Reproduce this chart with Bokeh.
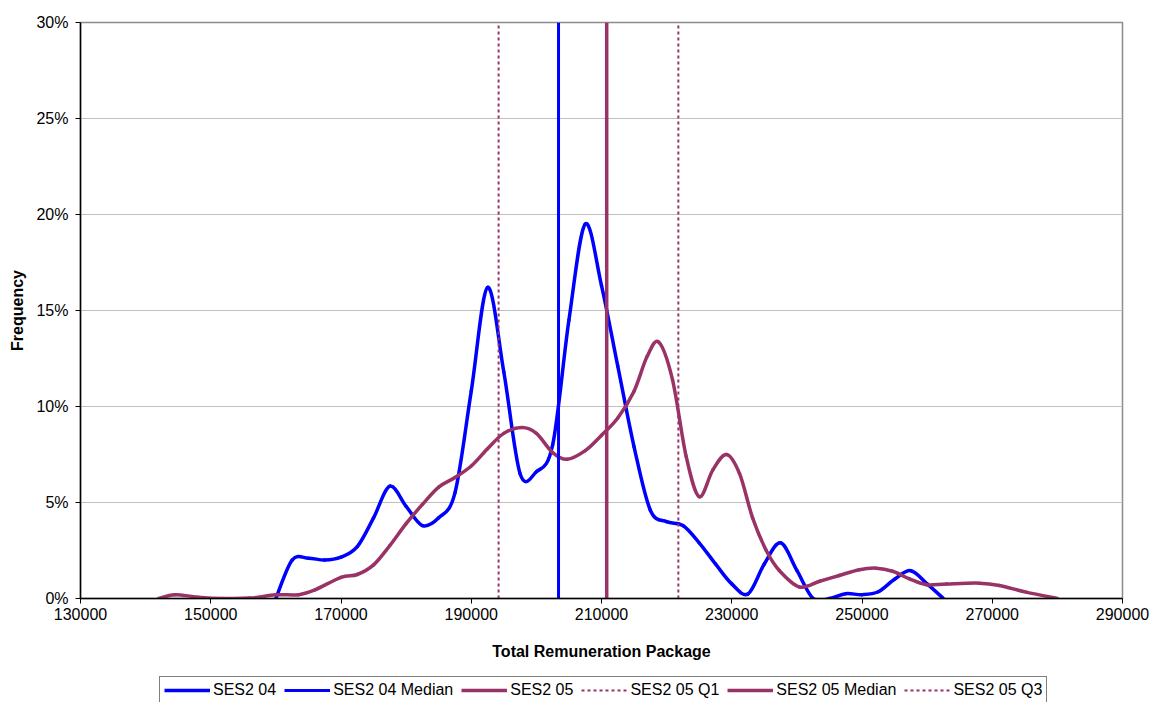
from bokeh.plotting import figure
from bokeh.models import Range1d, FixedTicker, PrintfTickFormatter, Legend, LegendItem
from bokeh.layouts import column
from bokeh.embed import file_html
from bokeh.resources import INLINE

# ---------------- data ----------------
ses04_x = [160000, 162500, 165000, 167500, 170000, 172500, 175000, 177500, 180000,
           182500, 185000, 187500, 190000, 192500, 195000, 197500, 200000, 202500,
           205000, 207500, 210000, 212500, 215000, 217500, 220000, 222500, 225000,
           227500, 230000, 232500, 235000, 237500, 240000, 242500, 245000, 247500,
           250000, 252500, 255000, 257500, 260000, 262500]
ses04_y = [0.0, 2.0, 2.1, 2.0, 2.15, 2.7, 4.2, 5.85, 4.8,
           3.8, 4.2, 5.5, 10.8, 16.2, 11.8, 6.5, 6.6, 8.0,
           14.5, 19.5, 16.3, 12.1, 7.9, 4.6, 4.0, 3.8, 2.9,
           1.8, 0.76, 0.24, 1.8, 2.9, 1.46, 0.0, 0.0, 0.25,
           0.2, 0.35, 1.0, 1.45, 0.76, 0.0]

ses05_x = [142000, 144500, 148000, 152000, 156000, 160000, 163500, 166000, 170000,
           172500, 175000, 177500, 180000, 182500, 185000, 187500, 190000, 192500,
           195000, 197800, 200000, 202500, 204700, 207500, 210000, 212500, 215000,
           217000, 218800, 220900, 223000, 225000, 227100, 229200, 231200, 233200,
           235300, 237300, 240400, 243500, 246500, 249600, 252200, 254700, 257300,
           259900, 263000, 268000, 271100, 275200, 280000]
ses05_y = [0.0, 0.2, 0.07, 0.0, 0.02, 0.19, 0.2, 0.45, 1.1,
           1.25, 1.75, 2.76, 3.9, 4.9, 5.8, 6.3, 6.9, 7.8,
           8.6, 8.9, 8.6, 7.6, 7.25, 7.7, 8.5, 9.4, 10.8,
           12.6, 13.35, 11.4, 7.4, 5.3, 6.7, 7.5, 6.5, 4.2,
           2.5, 1.46, 0.6, 0.9, 1.2, 1.5, 1.58, 1.42, 1.02,
           0.72, 0.76, 0.8, 0.68, 0.33, 0.0]

ses04_median = 203400
ses05_q1 = 194200
ses05_median = 210800
ses05_q3 = 221800

x_ticks = [130000, 150000, 170000, 190000, 210000, 230000, 250000, 270000, 290000]
y_ticks = [0, 5, 10, 15, 20, 25, 30]
y_max = 30

BLUE = "#0000ff"
PLUM = "#993366"
FONT = "Liberation Sans"

STYLES = {
    "SES2 04": dict(line_color=BLUE, line_width=3.5),
    "SES2 04 Median": dict(line_color=BLUE, line_width=3),
    "SES2 05": dict(line_color=PLUM, line_width=3.5),
    "SES2 05 Q1": dict(line_color=PLUM, line_width=2, line_dash="3 3"),
    "SES2 05 Median": dict(line_color=PLUM, line_width=3.5),
    "SES2 05 Q3": dict(line_color=PLUM, line_width=2, line_dash="3 3"),
}


def smooth_segments(xs, ys):
    """Catmull-Rom style Bezier control points (Excel-like smoothed line)."""
    n = len(xs)
    out = dict(x0=[], y0=[], x1=[], y1=[], cx0=[], cy0=[], cx1=[], cy1=[])
    for i in range(n - 1):
        a = max(i - 1, 0)
        d = min(i + 2, n - 1)
        out["x0"].append(xs[i]); out["y0"].append(ys[i])
        out["x1"].append(xs[i + 1]); out["y1"].append(ys[i + 1])
        out["cx0"].append(xs[i] + (xs[i + 1] - xs[a]) / 6.0)
        out["cy0"].append(ys[i] + (ys[i + 1] - ys[a]) / 6.0)
        out["cx1"].append(xs[i + 1] - (xs[d] - xs[i]) / 6.0)
        out["cy1"].append(ys[i + 1] - (ys[d] - ys[i]) / 6.0)
    return out


p = figure(width=1151, height=676, output_backend="svg", toolbar_location=None,
           x_range=Range1d(130000, 290000), y_range=Range1d(0, y_max),
           min_border_left=80, min_border_right=29, min_border_top=22,
           min_border_bottom=78)

p.background_fill_color = "white"
p.border_fill_color = "white"
p.outline_line_color = "#8c8c8c"
p.outline_line_width = 1.5

p.xgrid.grid_line_color = None
p.ygrid.grid_line_color = "#c0c0c0"
p.ygrid.grid_line_width = 1
p.ygrid.ticker = FixedTicker(ticks=y_ticks)

for ax in (p.xaxis[0], p.yaxis[0]):
    ax.axis_line_color = "black"
    ax.axis_line_width = 1.5
    ax.major_tick_line_color = "black"
    ax.major_tick_out = 5
    ax.major_tick_in = 0
    ax.minor_tick_line_color = None
    ax.major_label_text_font = FONT
    ax.major_label_text_font_size = "16px"
    ax.major_label_text_color = "black"
    ax.axis_label_text_font = FONT
    ax.axis_label_text_font_size = "16px"
    ax.axis_label_text_font_style = "bold"
    ax.axis_label_text_color = "black"

p.xaxis.ticker = FixedTicker(ticks=x_ticks)
p.xaxis.formatter = PrintfTickFormatter(format="%d")
p.xaxis.axis_label = "Total Remuneration Package"
p.xaxis.major_label_standoff = 4
p.xaxis.axis_label_standoff = 20

p.yaxis.ticker = FixedTicker(ticks=y_ticks)
p.yaxis.formatter = PrintfTickFormatter(format="%d%%")
p.yaxis.axis_label = "Frequency"
p.yaxis.major_label_standoff = 7
p.yaxis.axis_label_standoff = 7

# smoothed frequency curves
s04 = smooth_segments(ses04_x, ses04_y)
s05 = smooth_segments(ses05_x, ses05_y)
p.bezier(line_cap="round", **STYLES["SES2 04"], **s04)
p.bezier(line_cap="round", **STYLES["SES2 05"], **s05)

# quartile / median lines
p.line(x=[ses05_q1, ses05_q1], y=[0, y_max], **STYLES["SES2 05 Q1"])
p.line(x=[ses05_q3, ses05_q3], y=[0, y_max], **STYLES["SES2 05 Q3"])
p.line(x=[ses04_median, ses04_median], y=[0, y_max], **STYLES["SES2 04 Median"])
p.line(x=[ses05_median, ses05_median], y=[0, y_max], **STYLES["SES2 05 Median"])

# ---------------- legend strip below the chart ----------------
# same series drawn into a strip whose y-range lies above the data, so only
# the legend is visible there
lg = figure(width=1151, height=26, output_backend="svg", toolbar_location=None,
            x_range=p.x_range, y_range=Range1d(1000, 1001),
            x_axis_type=None, y_axis_type=None,
            min_border_left=80, min_border_right=29, min_border_top=0, min_border_bottom=0)
lg.outline_line_color = None
lg.xgrid.grid_line_color = None
lg.ygrid.grid_line_color = None
lg.background_fill_color = "white"
lg.border_fill_color = "white"

l04 = lg.line(x=ses04_x, y=ses04_y, **STYLES["SES2 04"])
l04m = lg.line(x=[ses04_median, ses04_median], y=[0, y_max], **STYLES["SES2 04 Median"])
l05 = lg.line(x=ses05_x, y=ses05_y, **STYLES["SES2 05"])
l05q1 = lg.line(x=[ses05_q1, ses05_q1], y=[0, y_max], **STYLES["SES2 05 Q1"])
l05m = lg.line(x=[ses05_median, ses05_median], y=[0, y_max], **STYLES["SES2 05 Median"])
l05q3 = lg.line(x=[ses05_q3, ses05_q3], y=[0, y_max], **STYLES["SES2 05 Q3"])

legend = Legend(items=[
    LegendItem(label="SES2 04", renderers=[l04]),
    LegendItem(label="SES2 04 Median", renderers=[l04m]),
    LegendItem(label="SES2 05", renderers=[l05]),
    LegendItem(label="SES2 05 Q1", renderers=[l05q1]),
    LegendItem(label="SES2 05 Median", renderers=[l05m]),
    LegendItem(label="SES2 05 Q3", renderers=[l05q3]),
], orientation="horizontal", location=(79, -2),
    border_line_color="black", border_line_width=1,
    background_fill_color="white", background_fill_alpha=1,
    glyph_width=46, glyph_height=16, label_standoff=3, spacing=8,
    padding=4, margin=0,
    label_text_font=FONT, label_text_font_size="16px", label_text_color="black")
lg.add_layout(legend)

layout = column(p, lg, spacing=0)
open("out.html", "w").write(file_html(layout, INLINE))
